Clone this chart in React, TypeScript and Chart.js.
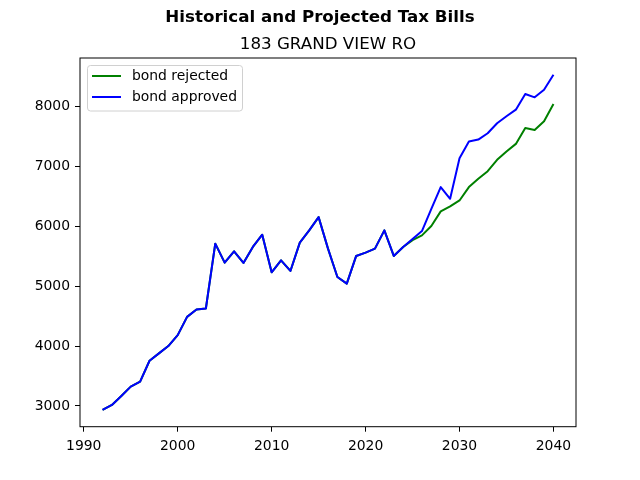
import React, { useEffect, useRef } from 'react';
import { Chart, registerables, Plugin } from 'chart.js';

Chart.register(...registerables);

const FONT = "'DejaVu Sans', sans-serif";

const years = [
    1992, 1993, 1994, 1995, 1996, 1997, 1998, 1999, 2000, 2001,
    2002, 2003, 2004, 2005, 2006, 2007, 2008, 2009, 2010, 2011,
    2012, 2013, 2014, 2015, 2016, 2017, 2018, 2019, 2020, 2021,
    2022, 2023, 2024, 2025, 2026, 2027, 2028, 2029, 2030, 2031,
    2032, 2033, 2034, 2035, 2036, 2037, 2038, 2039, 2040,
];

const bondApproved = [
    2933, 3017, 3167, 3322, 3405, 3755, 3878, 4000, 4183, 4488,
    4611, 4628, 5711, 5394, 5583, 5389, 5656, 5861, 5233, 5433,
    5255, 5728, 5933, 6155, 5628, 5155, 5044, 5506, 5561, 5628,
    5933, 5506, 5656, 5790, 5922, 6294, 6656, 6461, 7139, 7417,
    7450, 7556, 7722, 7839, 7950, 8211, 8156, 8283, 8533,
];

const bondRejected = [
    2933, 3017, 3167, 3322, 3405, 3755, 3878, 4000, 4183, 4488,
    4611, 4628, 5711, 5394, 5583, 5389, 5656, 5861, 5233, 5433,
    5255, 5728, 5933, 6155, 5628, 5155, 5044, 5506, 5561, 5628,
    5933, 5506, 5656, 5770, 5850, 6006, 6250, 6333, 6433, 6656,
    6794, 6922, 7111, 7250, 7378, 7644, 7611, 7756, 8044,
];

const xTicks = [1990, 2000, 2010, 2020, 2030, 2040];
const yTicks = [3000, 4000, 5000, 6000, 7000, 8000];

const legendItems = [
    { label: 'bond rejected', color: 'green' },
    { label: 'bond approved', color: 'blue' },
];

// frame, titles and a matplotlib-like legend
const decorPlugin: Plugin = {
    id: 'decor',
    afterDraw(chart) {
        const { ctx, chartArea: a } = chart;
        ctx.save();
        ctx.strokeStyle = '#000';
        ctx.lineWidth = 1;
        ctx.strokeRect(a.left, a.top, a.right - a.left, a.bottom - a.top);

        ctx.fillStyle = '#000';
        ctx.textAlign = 'center';
        ctx.textBaseline = 'middle';
        ctx.font = `bold 16.7px ${FONT}`;
        ctx.fillText('Historical and Projected Tax Bills', 320, 17.5);
        ctx.font = `16.7px ${FONT}`;
        ctx.fillText('183 GRAND VIEW RO', (a.left + a.right) / 2, 44.5);

        const bx = 87.5, by = 65.5, bw = 155, bh = 45.5;
        ctx.beginPath();
        ctx.roundRect(bx, by, bw, bh, 3);
        ctx.fillStyle = 'rgba(255,255,255,0.8)';
        ctx.fill();
        ctx.strokeStyle = '#d0d0d0';
        ctx.stroke();

        ctx.textAlign = 'left';
        ctx.font = `13.9px ${FONT}`;
        legendItems.forEach((item, i) => {
            const y = 76 + i * 21;
            ctx.beginPath();
            ctx.moveTo(92, y);
            ctx.lineTo(121, y);
            ctx.strokeStyle = item.color;
            ctx.lineWidth = 2;
            ctx.stroke();
            ctx.fillStyle = '#000';
            ctx.fillText(item.label, 132, y + 0.5);
        });
        ctx.restore();
    },
};

const App: React.FC = () => {
    const chartRef = useRef<HTMLCanvasElement | null>(null);

    useEffect(() => {
        const ctx = chartRef.current?.getContext('2d');
        if (!ctx) {
            return;
        }

        const myChart = new Chart(ctx, {
            type: 'line',
            data: {
                datasets: [
                    {
                        label: 'bond rejected',
                        data: years.map((x, i) => ({ x, y: bondRejected[i] })),
                        borderColor: 'green',
                        borderWidth: 2,
                        pointRadius: 0,
                        borderJoinStyle: 'round',
                        order: 1,
                    },
                    {
                        label: 'bond approved',
                        data: years.map((x, i) => ({ x, y: bondApproved[i] })),
                        borderColor: 'blue',
                        borderWidth: 2,
                        pointRadius: 0,
                        borderJoinStyle: 'round',
                        order: 0,
                    },
                ],
            },
            options: {
                responsive: false,
                animation: false,
                devicePixelRatio: 1,
                layout: { padding: { left: 0, right: 64, top: 58, bottom: 0 } },
                plugins: {
                    legend: { display: false },
                    title: { display: false },
                    tooltip: { enabled: false },
                },
                scales: {
                    x: {
                        type: 'linear',
                        min: 1989.6,
                        max: 2042.4,
                        afterBuildTicks: (scale) => {
                            scale.ticks = xTicks.map((v) => ({ value: v }));
                        },
                        afterFit: (scale) => {
                            scale.height = 53.3;
                        },
                        grid: { drawOnChartArea: false, tickLength: 5, color: '#000' },
                        border: { display: false },
                        ticks: {
                            color: '#000',
                            font: { family: FONT, size: 13.9 },
                            padding: 6,
                            maxRotation: 0,
                            callback: (v) => String(v),
                        },
                    },
                    y: {
                        type: 'linear',
                        min: 2653,
                        max: 8813,
                        afterBuildTicks: (scale) => {
                            scale.ticks = yTicks.map((v) => ({ value: v }));
                        },
                        afterFit: (scale) => {
                            scale.width = 80;
                        },
                        grid: { drawOnChartArea: false, tickLength: 5, color: '#000' },
                        border: { display: false },
                        ticks: {
                            color: '#000',
                            font: { family: FONT, size: 13.9 },
                            padding: 5,
                            callback: (v) => String(v),
                        },
                    },
                },
            },
            plugins: [decorPlugin],
        });

        return () => {
            myChart.destroy();
        };
    }, []);

    return (
        <div style={{ position: 'absolute', left: 0, top: 0, width: 640, height: 480, background: '#fff' }}>
            <canvas ref={chartRef} width={640} height={480} />
        </div>
    );
};

export default App;
